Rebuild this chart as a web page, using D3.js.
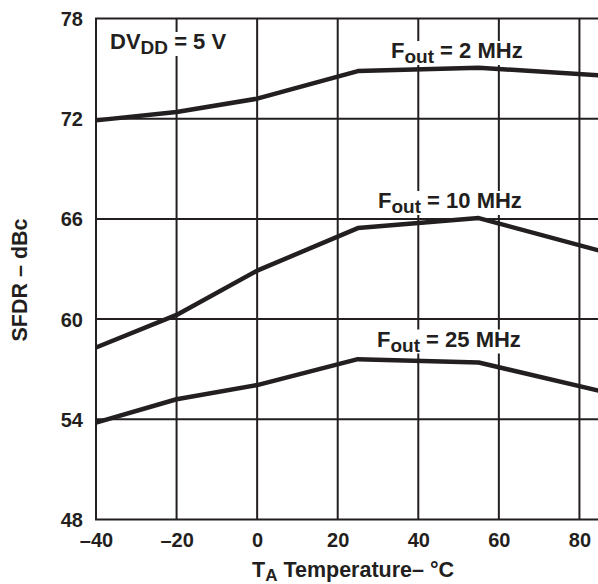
<!DOCTYPE html>
<html>
<head>
<meta charset="utf-8">
<script src="https://cdn.jsdelivr.net/npm/d3@7/dist/d3.min.js"></script>
<style>
  html, body { margin: 0; padding: 0; background: #fff; }
  svg { display: block; }
  text { font-family: "Liberation Sans", Arial, Helvetica, sans-serif; font-weight: bold; fill: #231f20; }
</style>
</head>
<body>
<svg id="chart" width="598" height="584"></svg>
<script>
// ---- data ----
const temps   = [-40, -20, 0, 25, 55, 85];
const sfdr2   = [71.9, 72.4, 73.2, 74.85, 75.05, 74.6];
const sfdr10  = [58.3, 60.25, 62.9, 65.45, 66.05, 64.1];
const sfdr25  = [53.8, 55.2, 56.05, 57.6, 57.4, 55.7];
const xTicks  = [-40, -20, 0, 20, 40, 60, 80];
const xTickLabels = ["\u201340", "\u201320", "0", "20", "40", "60", "80"];
const yTicks  = [48, 54, 60, 66, 72, 78];
const yTickLabels = ["48", "54", "60", "66", "72", "78"];

const ink = "#231f20";
const svg = d3.select("#chart");

const x = d3.scaleLinear().domain([-40, 100]).range([96, 660]);
const y = d3.scaleLinear().domain([48, 78]).range([519.5, 18.5]);

// grid
const grid = svg.append("g");
grid.selectAll("line.v").data(xTicks.concat([100])).join("line")
  .attr("x1", d => x(d)).attr("x2", d => x(d))
  .attr("y1", y(48)).attr("y2", y(78))
  .attr("stroke", ink).attr("stroke-width", 2);
grid.selectAll("line.h").data(yTicks).join("line")
  .attr("x1", x(-40) - 1).attr("x2", x(100))
  .attr("y1", d => y(d)).attr("y2", d => y(d))
  .attr("stroke", ink).attr("stroke-width", 2);

// tick labels via d3 axes (no domain/ticks lines)
const xAxis = d3.axisBottom(x).tickValues(xTicks)
  .tickFormat((d, i) => xTickLabels[i]).tickSize(0).tickPadding(0);
const gx = svg.append("g").attr("transform", `translate(0,${546.5})`).call(xAxis);
gx.select(".domain").remove();
gx.selectAll("text").attr("dy", null).attr("y", 0)
  .style("font-size", "20px").style("font-family", null).attr("fill", ink);

const yAxis = d3.axisLeft(y).tickValues(yTicks)
  .tickFormat((d, i) => yTickLabels[i]).tickSize(0).tickPadding(0);
const gy = svg.append("g").attr("transform", `translate(83,0)`).call(yAxis);
gy.select(".domain").remove();
gy.selectAll("text").attr("x", 0).attr("dy", "0.35em")
  .style("font-size", "20px").style("font-family", null).attr("fill", ink);

// axis titles
svg.append("text")
  .attr("transform", "translate(27,280) rotate(-90)")
  .attr("text-anchor", "middle")
  .style("font-size", "21.5px")
  .text("SFDR \u2013 dBc");

const xt = svg.append("text").attr("x", 252).attr("y", 577).style("font-size", "21.5px");
xt.append("tspan").text("T");
xt.append("tspan").attr("dy", 4).style("font-size", "17px").text("A");
xt.append("tspan").attr("dy", -4).text(" Temperature\u2013 \u00b0C");

// curves
const line = d3.line().x(d => x(d[0])).y(d => y(d[1]));
const seriesList = [sfdr2, sfdr10, sfdr25];

// in-plot labels with white backgrounds
function subLabel(x0, yb, main, sub, rest) {
  const g = svg.append("g");
  const t = g.append("text").attr("x", x0).attr("y", yb).style("font-size", "22px");
  t.append("tspan").text(main);
  t.append("tspan").attr("dy", 5).style("font-size", "19px").text(sub);
  t.append("tspan").attr("dy", -5).text(rest);
  const b = t.node().getBBox();
  g.insert("rect", "text")
    .attr("x", b.x - 1).attr("y", b.y + 3)
    .attr("width", b.width + 2).attr("height", b.height - 5)
    .attr("fill", "#fff");
}
subLabel(110, 49, "DV", "DD", " = 5 V");
subLabel(391, 58, "F", "out", " = 2 MHz");
subLabel(378, 208, "F", "out", " = 10 MHz");
subLabel(377, 346.5, "F", "out", " = 25 MHz");

svg.append("g").selectAll("path").data(seriesList).join("path")
  .attr("d", s => line(temps.map((t, i) => [t, s[i]])))
  .attr("fill", "none").attr("stroke", ink).attr("stroke-width", 4.5)
  .attr("stroke-linejoin", "round");
</script>
</body>
</html>
